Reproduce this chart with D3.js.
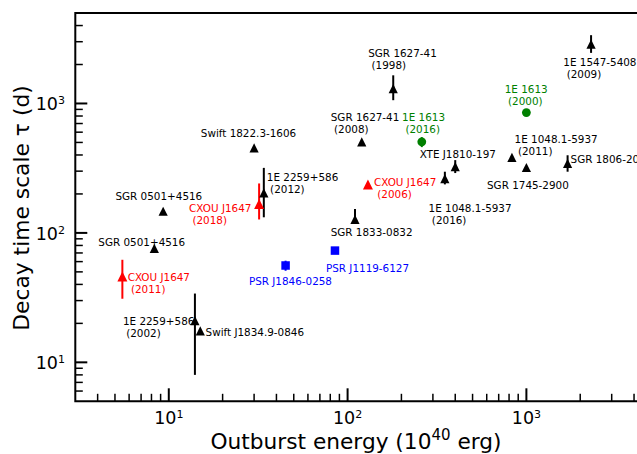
<!DOCTYPE html>
<html><head><meta charset="utf-8">
<script src="https://cdn.jsdelivr.net/npm/d3@7"></script>
<style>
body{margin:0;background:#fff}
svg{display:block}
text{font-family:"DejaVu Sans",sans-serif}
</style>
</head><body>
<svg id="chart" width="637" height="454"></svg>
<script>
// ---- data ----
const sourceLabels = [
  ["SGR 0501+4516"], ["SGR 0501+4516"], ["CXOU J1647", " (2011)"], ["1E 2259+586", " (2002)"],
  ["Swift J1834.9-0846"], ["Swift 1822.3-1606"], ["1E 2259+586", " (2012)"], ["CXOU J1647", " (2018)"],
  ["PSR J1846-0258"], ["PSR J1119-6127"], ["SGR 1833-0832"], ["CXOU J1647", " (2006)"],
  ["SGR 1627-41", " (2008)"], ["SGR 1627-41", " (1998)"], ["1E 1613", " (2016)"], ["XTE J1810-197"],
  ["1E 1048.1-5937", " (2016)"], ["1E 1613", " (2000)"], ["1E 1547-5408", " (2009)"], ["1E 1048.1-5937", " (2011)"],
  ["SGR 1745-2900"], ["SGR 1806-20"]
];
const sourceClass = [
  "magnetar","magnetar","cxou","magnetar","magnetar","magnetar","magnetar","cxou",
  "psr","psr","magnetar","cxou","magnetar","magnetar","e1613","magnetar",
  "magnetar","e1613","magnetar","magnetar","magnetar","magnetar"
];
const outburstEnergy = [9.3, 8.3, 5.5, 14, 15, 30, 34, 32, 45, 85, 110, 130, 120, 180, 260, 400, 350, 1000, 2300, 830, 1000, 1700];
const decayTau      = [147, 76, 46, 21, 17.5, 454, 204, 167, 56, 73, 127, 237, 505, 1300, 505, 325, 263, 850, 2870, 383, 320, 345];
const tauLower      = [null, null, 31, 8, null, null, 132, 127, 51, null, 118, null, null, 1060, 460, 290, 237, null, 2460, null, null, 297];
const tauUpper      = [null, null, 62, 34, null, null, 318, 241, 61, null, 153, null, null, 1650, 550, 365, 297, null, 3370, null, null, 398];
const xDomain = [3, 5000];
const yDomain = [5, 5000];
const xMajorTicks = [10, 100, 1000];
const yMajorTicks = [10, 100, 1000];
const xTickExponents = ["1", "2", "3"];
const yTickExponents = ["1", "2", "3"];

// ---- layout (label offsets in px from marker) ----
const labelOffset = [
  [-47.7,-11],[-56,-2.3],[5.3,4.2],[-72,4],[5.3,5.3],[-53.3,-10.4],[3,-11.4],[-70,7.7],
  [-36.7,19.3],[-9,21.6],[-24.3,16.7],[6,1.4],[-31,-21],[-25,-32],[-19.7,-21],[-35.6,-9],
  [-16.3,33.4],[-21.7,-20],[-27.7,21.7],[2.7,-14],[-39.4,21],[3,-0.6]
];
const classColor = {magnetar:"#000000", cxou:"#ff0000", e1613:"#008000", psr:"#0000ff"};

const svg = d3.select("#chart");
const padL = 75.3, padT = 13, padB = 401.3;
const x = d3.scaleLog().domain(xDomain).range([padL, padL + (Math.log10(xDomain[1]) - Math.log10(xDomain[0])) * 178.8]);
const y = d3.scaleLog().domain(yDomain).range([padB, padT]);
const padR = x.range()[1];

const data = outburstEnergy.map((e, i) => ({
  e, t: decayTau[i], lo: tauLower[i], hi: tauUpper[i], cls: sourceClass[i],
  lines: sourceLabels[i], off: labelOffset[i]
}));

function minorTicks(domain) {
  const out = [];
  for (let p = Math.floor(Math.log10(domain[0])); p <= Math.ceil(Math.log10(domain[1])); p++) {
    for (let m = 2; m <= 9; m++) {
      const v = m * Math.pow(10, p);
      if (v > domain[0] && v < domain[1]) out.push(v);
    }
  }
  return out;
}

const g = svg.append("g");
g.selectAll(".xmin").data(minorTicks(xDomain)).join("line")
  .attr("x1", d => x(d)).attr("x2", d => x(d)).attr("y1", padB).attr("y2", padB - 7.5)
  .attr("stroke", "#000").attr("stroke-width", 1.5);
g.selectAll(".xmaj").data(xMajorTicks).join("line")
  .attr("x1", d => x(d)).attr("x2", d => x(d)).attr("y1", padB).attr("y2", padB - 13)
  .attr("stroke", "#000").attr("stroke-width", 2);
g.selectAll(".ymin").data(minorTicks(yDomain)).join("line")
  .attr("y1", d => y(d)).attr("y2", d => y(d)).attr("x1", padL).attr("x2", padL + 7.5)
  .attr("stroke", "#000").attr("stroke-width", 1.5);
g.selectAll(".ymaj").data(yMajorTicks).join("line")
  .attr("y1", d => y(d)).attr("y2", d => y(d)).attr("x1", padL).attr("x2", padL + 12)
  .attr("stroke", "#000").attr("stroke-width", 2);

xMajorTicks.forEach((v, i) => {
  const t = g.append("text").attr("x", x(v)).attr("y", 424.3).attr("text-anchor", "middle")
    .attr("font-size", 17.5).attr("fill", "#000");
  t.append("tspan").text("10");
  t.append("tspan").attr("font-size", 11).attr("dy", -6).text(xTickExponents[i]);
});
yMajorTicks.forEach((v, i) => {
  const t = g.append("text").attr("x", 65).attr("y", y(v) + 6.7).attr("text-anchor", "end")
    .attr("font-size", 17.5).attr("fill", "#000");
  t.append("tspan").text("10");
  t.append("tspan").attr("font-size", 11).attr("dy", -6).text(yTickExponents[i]);
});

svg.append("path").attr("d", `M${padL},${padT}H${padR}V${padB}H${padL}Z`)
  .attr("fill", "none").attr("stroke", "#000").attr("stroke-width", 2);

const xt = svg.append("text").attr("x", 356).attr("y", 449).attr("text-anchor", "middle")
  .attr("font-size", 21.7).attr("fill", "#000");
xt.append("tspan").text("Outburst energy (10");
xt.append("tspan").attr("font-size", 15).attr("dy", -9).text("40");
xt.append("tspan").attr("dy", 9).text(" erg)");

const yt = svg.append("text").attr("transform", "translate(29,208) rotate(-90)")
  .attr("text-anchor", "middle").attr("font-size", 21.8).attr("fill", "#000");
yt.append("tspan").text("Decay time scale ");
yt.append("tspan").text("τ");
yt.append("tspan").text(" (d)");

const triType = { draw(ctx, size) { const w = Math.sqrt(size); ctx.moveTo(0, -w/2); ctx.lineTo(w/2, w/2); ctx.lineTo(-w/2, w/2); ctx.closePath(); } };
const sqType = { draw(ctx, size) { const w = Math.sqrt(size); ctx.rect(-w/2, -w/2, w, w); } };
const symbolFor = {
  magnetar: d3.symbol().type(triType).size(9.2 * 9.2),
  cxou: d3.symbol().type(triType).size(10 * 10),
  e1613: d3.symbol().type(d3.symbolCircle).size(Math.PI * 4.4 * 4.4),
  psr: d3.symbol().type(sqType).size(8.5 * 8.5)
};

const plot = svg.append("g");
plot.selectAll(".err").data(data.filter(d => d.lo != null)).join("line")
  .attr("x1", d => x(d.e)).attr("x2", d => x(d.e))
  .attr("y1", d => y(d.lo)).attr("y2", d => y(d.hi))
  .attr("stroke", d => classColor[d.cls]).attr("stroke-width", 2);
plot.selectAll(".mk").data(data).join("path")
  .attr("transform", d => `translate(${x(d.e)},${y(d.t)})`)
  .attr("d", d => symbolFor[d.cls]())
  .attr("fill", d => classColor[d.cls]);
const lab = plot.selectAll(".lab").data(data).join("text")
  .attr("x", d => x(d.e) + d.off[0]).attr("y", d => y(d.t) + d.off[1])
  .attr("font-size", 10.4).attr("fill", d => classColor[d.cls])
  .style("white-space", "pre");
lab.each(function(d) {
  const t = d3.select(this);
  d.lines.forEach((ln, k) => {
    t.append("tspan").attr("x", x(d.e) + d.off[0]).attr("dy", k === 0 ? 0 : 12).text(ln);
  });
});
</script>
</body></html>
